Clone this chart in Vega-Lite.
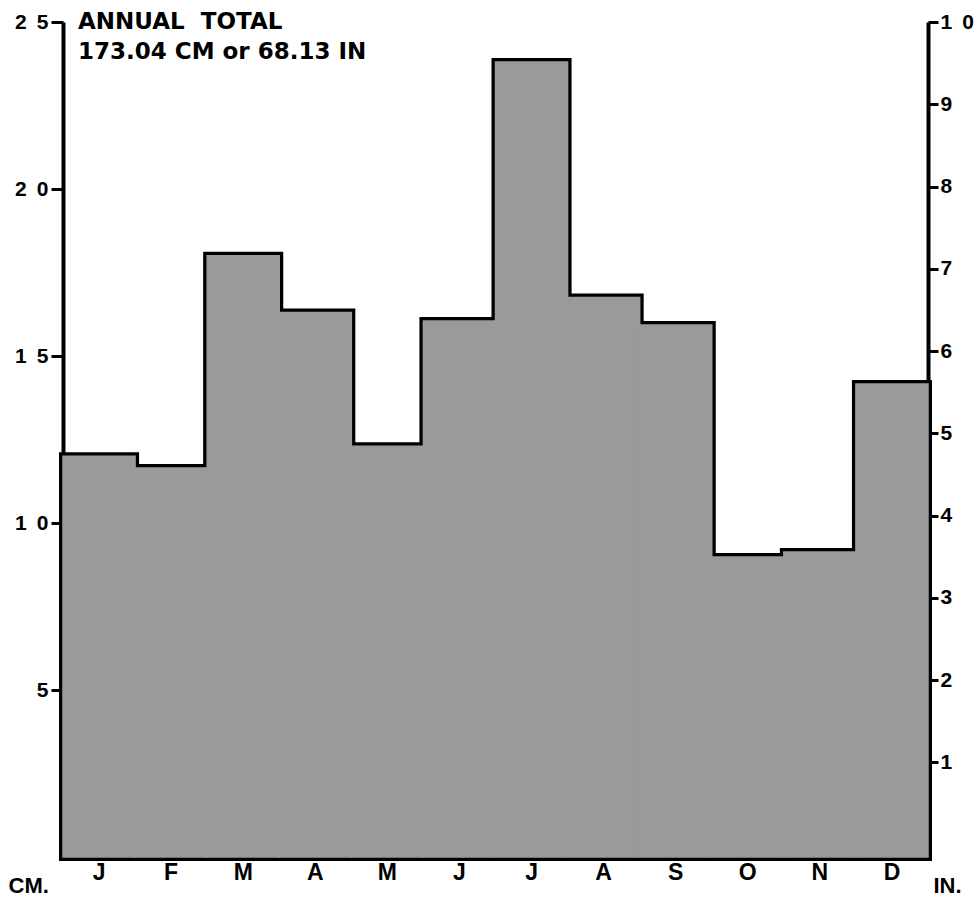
{
  "$schema": "https://vega.github.io/schema/vega-lite/v6.json",
  "width": 865,
  "height": 835,
  "autosize": {"type": "none"},
  "padding": {"left": 63, "top": 22, "right": 49, "bottom": 58},
  "background": "white",
  "config": {"view": {"stroke": null}},
  "title": {
    "text": ["ANNUAL \u00a0TOTAL", "173.04 CM or 68.13 IN"],
    "anchor": "start",
    "frame": "group",
    "orient": "top",
    "offset": 0,
    "baseline": "top",
    "dx": 15,
    "dy": 53,
    "lineHeight": 30,
    "font": "DejaVu Sans",
    "fontSize": 23,
    "fontWeight": "bold",
    "color": "black"
  },
  "data": {
    "values": [
      {"month": "Jan", "cm": 12.0, "in": 4.72},
      {"month": "Feb", "cm": 11.65, "in": 4.59},
      {"month": "Mar", "cm": 18.0, "in": 7.09},
      {"month": "Apr", "cm": 16.3, "in": 6.42},
      {"month": "May", "cm": 12.3, "in": 4.84},
      {"month": "Jun", "cm": 16.05, "in": 6.32},
      {"month": "Jul", "cm": 23.8, "in": 9.37},
      {"month": "Aug", "cm": 16.75, "in": 6.59},
      {"month": "Sep", "cm": 15.93, "in": 6.27},
      {"month": "Oct", "cm": 8.98, "in": 3.54},
      {"month": "Nov", "cm": 9.13, "in": 3.59},
      {"month": "Dec", "cm": 14.16, "in": 5.57}
    ]
  },
  "encoding": {
    "x": {
      "field": "month",
      "type": "nominal",
      "sort": null,
      "scale": {"paddingInner": 0, "paddingOuter": 0},
      "axis": {
        "title": null,
        "ticks": false,
        "domainColor": "black",
        "domainWidth": 4,
        "labelAngle": 0,
        "labelExpr": "substring(datum.label, 0, 1)",
        "labelFont": "Liberation Sans",
        "labelFontSize": 23,
        "labelFontWeight": "bold",
        "labelColor": "black",
        "labelPadding": 4
      }
    }
  },
  "layer": [
    {
      "mark": {"type": "bar", "fill": "#9a9a9a", "stroke": "black", "strokeWidth": 8, "strokeJoin": "miter"},
      "encoding": {
        "y": {
          "field": "cm",
          "type": "quantitative",
          "scale": {"domain": [0, 25], "nice": false},
          "axis": {
            "values": [5, 10, 15, 20, 25],
            "grid": false,
            "domainColor": "black",
            "domainWidth": 4,
            "tickColor": "black",
            "tickWidth": 3,
            "tickSize": 12,
            "labelExpr": "length(datum.label) > 1 ? substring(datum.label, 0, 1) + ' \u2009' + substring(datum.label, 1) : datum.label",
            "labelFont": "Liberation Sans",
            "labelFontSize": 21,
            "labelFontWeight": "bold",
            "labelColor": "black",
            "labelPadding": 3,
            "title": "CM.",
            "titleAngle": 0,
            "titleX": -55,
            "titleY": 863,
            "titleAlign": "left",
            "titleBaseline": "middle",
            "titleFont": "Liberation Sans",
            "titleFontSize": 22,
            "titleFontWeight": "bold",
            "titleColor": "black"
          }
        }
      }
    },
    {
      "mark": {"type": "bar", "fill": "#9a9a9a", "stroke": "#9a9a9a", "strokeWidth": 1.5},
      "encoding": {
        "y": {
          "field": "cm",
          "type": "quantitative",
          "scale": {"domain": [0, 25], "nice": false},
          "axis": null
        }
      }
    },
    {
      "mark": {"type": "bar", "opacity": 0},
      "encoding": {
        "y": {
          "field": "in",
          "type": "quantitative",
          "scale": {"domain": [-0.15, 10], "nice": false, "zero": false},
          "axis": {
            "orient": "right",
            "values": [1, 2, 3, 4, 5, 6, 7, 8, 9, 10],
            "grid": false,
            "domainColor": "black",
            "domainWidth": 4,
            "tickColor": "black",
            "tickWidth": 3,
            "tickSize": 10,
            "labelExpr": "length(datum.label) > 1 ? substring(datum.label, 0, 1) + ' \u2009' + substring(datum.label, 1) : datum.label",
            "labelFont": "Liberation Sans",
            "labelFontSize": 21,
            "labelFontWeight": "bold",
            "labelColor": "black",
            "labelPadding": 2,
            "title": "IN.",
            "titleAngle": 0,
            "titleX": 5,
            "titleY": 863,
            "titleAlign": "left",
            "titleBaseline": "middle",
            "titleFont": "Liberation Sans",
            "titleFontSize": 22,
            "titleFontWeight": "bold",
            "titleColor": "black"
          }
        }
      }
    }
  ],
  "resolve": {"scale": {"y": "independent"}, "axis": {"y": "independent"}}
}
